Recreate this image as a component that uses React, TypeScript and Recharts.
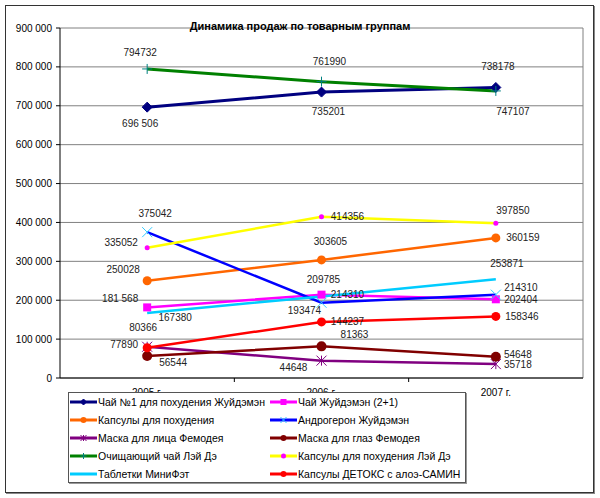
import React from "react";
import { CartesianGrid, LabelList, Legend, Line, LineChart, XAxis, YAxis } from "recharts";

const FONT = "Arial, 'Liberation Sans', sans-serif";

const YEARS = ["2005 г.", "2006 г.", "2007 г."];
const Y_TICKS = [0, 100000, 200000, 300000, 400000, 500000, 600000, 700000, 800000, 900000];

// values per product group, 2005..2007
const chaiN1 = [696506, 735201, 747107];
const chaiZhuy = [181568, 214310, 202404];
const kapsuly = [250028, 303605, 360159];
const androgeron = [375042, 193474, 214310];
const maskaLitso = [80366, 44648, 35718];
const maskaGlaza = [56544, 81363, 54648];
const ochishchChai = [794732, 761990, 738178];
const kapsulyLeyDe = [335052, 414356, 397850];
const miniFet = [167380, 209785, 253871];
const detoks = [77890, 144237, 158346];

// labels that Excel printed with a thousands separator
const SPACED = new Set([696506, 181568]);

type Shape = "diamond" | "square" | "circle" | "x" | "star" | "plus" | "dot" | "none";

const SERIES = [
  { key: "s1", name: "Чай №1 для похудения Жуйдэмэн", values: chaiN1, stroke: "#000080", shape: "diamond" as Shape, mark: "#000080", r: 5, w: 3 },
  { key: "s2", name: "Чай Жуйдэмэн (2+1)", values: chaiZhuy, stroke: "#FF00FF", shape: "square" as Shape, mark: "#FF00FF", r: 4, w: 2.5 },
  { key: "s3", name: "Капсулы для похудения", values: kapsuly, stroke: "#FF6600", shape: "circle" as Shape, mark: "#FF6600", r: 4.5, w: 2.5 },
  { key: "s4", name: "Андрогерон Жуйдэмэн", values: androgeron, stroke: "#0000FF", shape: "x" as Shape, mark: "#33CCFF", r: 5, w: 2.5 },
  { key: "s5", name: "Маска для лица Фемодея", values: maskaLitso, stroke: "#800080", shape: "star" as Shape, mark: "#800080", r: 5, w: 2.5 },
  { key: "s6", name: "Маска для глаз Фемодея", values: maskaGlaza, stroke: "#800000", shape: "circle" as Shape, mark: "#800000", r: 5, w: 2.5 },
  { key: "s7", name: "Очищающий чай Лэй Дэ", values: ochishchChai, stroke: "#008000", shape: "plus" as Shape, mark: "#008080", r: 5, w: 3 },
  { key: "s8", name: "Капсулы для похудения Лэй Дэ", values: kapsulyLeyDe, stroke: "#FFFF00", shape: "dot" as Shape, mark: "#FF00FF", r: 2.5, w: 2.5 },
  { key: "s9", name: "Таблетки МиниФэт", values: miniFet, stroke: "#00CCFF", shape: "none" as Shape, mark: "#00CCFF", r: 0, w: 2.5 },
  { key: "s10", name: "Капсулы ДЕТОКС с алоэ-САМИН", values: detoks, stroke: "#FF0000", shape: "circle" as Shape, mark: "#FF0000", r: 4.5, w: 2.5 },
];

// label centre offsets from each point [dx, dy]
const LABEL_OFFSETS: Record<string, [number, number][]> = {
  s1: [[-7, 16], [7, 19], [17, 24]],
  s2: [[-27, -9], [26, 0], [25, 0]],
  s3: [[-24, -11], [9, -18], [27, 0]],
  s4: [[8, -19], [-17, 8], [25, -7]],
  s5: [[-4, -19], [-28, 7], [22, 0]],
  s6: [[26, 6], [33, -12], [22, -2]],
  s7: [[-7, -16], [8, -20], [2, -24]],
  s8: [[-26, -5], [26, 0], [17, -13]],
  s9: [[28, 5], [2, -17], [11, -16]],
  s10: [[-23, -3], [26, 0], [26, 0]],
};

const rows = YEARS.map((year, i) => {
  const row: Record<string, string | number> = { year };
  SERIES.forEach((s) => (row[s.key] = s.values[i]));
  return row;
});

const spaced = (v: number) => String(v).replace(/\B(?=(\d{3})+(?!\d))/g, " ");

function Marker({ shape, cx, cy, color, r }: { shape: Shape; cx: number; cy: number; color: string; r: number }) {
  switch (shape) {
    case "diamond":
      return <polygon points={`${cx},${cy - r} ${cx + r},${cy} ${cx},${cy + r} ${cx - r},${cy}`} fill={color} stroke={color} />;
    case "square":
      return <rect x={cx - r} y={cy - r} width={2 * r} height={2 * r} fill={color} />;
    case "circle":
    case "dot":
      return <circle cx={cx} cy={cy} r={r} fill={color} />;
    case "x":
      return <path d={`M${cx - r},${cy - r}L${cx + r},${cy + r}M${cx - r},${cy + r}L${cx + r},${cy - r}`} stroke={color} strokeWidth={1} fill="none" />;
    case "star":
      return (
        <path
          d={`M${cx - r},${cy - r}L${cx + r},${cy + r}M${cx - r},${cy + r}L${cx + r},${cy - r}M${cx},${cy - r}L${cx},${cy + r}`}
          stroke={color}
          strokeWidth={1}
          fill="none"
        />
      );
    case "plus":
      return <path d={`M${cx - r},${cy}L${cx + r},${cy}M${cx},${cy - r}L${cx},${cy + r}`} stroke={color} strokeWidth={1} fill="none" />;
    default:
      return null;
  }
}

function XTick(props: any) {
  const { x, y, payload, index, width, visibleTicksCount } = props;
  const n = visibleTicksCount || YEARS.length;
  const half = (width || 523) / n / 2;
  return (
    <g>
      <text x={x} y={y + 18} textAnchor="middle" fontSize={10} fill="#000">
        {payload.value}
      </text>
      {index < n - 1 && <line x1={x + half} x2={x + half} y1={y} y2={y + 4} stroke="#000" />}
    </g>
  );
}

function makeLabel(key: string) {
  return (props: any) => {
    const { index, value } = props;
    const x = props.x ?? props.viewBox?.x;
    const y = props.y ?? props.viewBox?.y;
    const [dx, dy] = LABEL_OFFSETS[key][index];
    return (
      <text x={x + dx} y={y + dy} textAnchor="middle" dominantBaseline="central" fontSize={10} fill="#222">
        {SPACED.has(value) ? spaced(value) : String(value)}
      </text>
    );
  };
}

function LegendBox() {
  return (
    <div
      style={{
        width: "100%",
        height: "100%",
        boxSizing: "border-box",
        border: "1px solid #555",
        boxShadow: "1px 1px 0 #999",
        background: "#fff",
        display: "grid",
        gridTemplateColumns: "200px auto",
        gridAutoRows: "18px",
        fontSize: 10.5,
        fontFamily: FONT,
        color: "#000",
      }}
    >
      {SERIES.map((s) => (
        <div key={s.key} style={{ display: "flex", alignItems: "center", whiteSpace: "nowrap" }}>
          <svg width={29} height={10} style={{ flex: "none" }}>
            <line x1={1} x2={28} y1={5} y2={5} stroke={s.stroke} strokeWidth={3} />
            <Marker shape={s.shape} cx={14.5} cy={5} color={s.mark} r={Math.min(s.r, 3)} />
          </svg>
          <span>{s.name}</span>
        </div>
      ))}
    </div>
  );
}

export default function App() {
  return (
    <div style={{ position: "absolute", left: 0, top: 0, width: 600, height: 498, background: "#fff", fontFamily: FONT }}>
      <LineChart width={600} height={498} data={rows} margin={{ top: 28, right: 17, bottom: 90, left: 0 }} style={{ fontFamily: FONT }}>
        <CartesianGrid
          stroke="#808080"
          verticalCoordinatesGenerator={({ offset }: any) => [offset.left + offset.width]}
        />
        <XAxis
          dataKey="year"
          scale="band"
          axisLine={{ stroke: "#000" }}
          tickLine={false}
          tickSize={0}
          tickMargin={0}
          height={30}
          tick={<XTick />}
          interval={0}
        />
        <YAxis
          domain={[0, 900000]}
          ticks={Y_TICKS}
          width={60}
          tickSize={4}
          tickMargin={4}
          axisLine={{ stroke: "#000" }}
          tickLine={{ stroke: "#000" }}
          tick={{ fontSize: 10, fill: "#000" }}
          tickFormatter={(v: number) => spaced(v)}
          interval={0}
        />
        {SERIES.map((s) => (
          <Line
            key={s.key}
            dataKey={s.key}
            name={s.name}
            stroke={s.stroke}
            strokeWidth={s.w}
            isAnimationActive={false}
            activeDot={false}
            dot={
              s.shape === "none"
                ? false
                : (p: any) => <Marker key={`${s.key}-${p.index}`} shape={s.shape} cx={p.cx} cy={p.cy} color={s.mark} r={s.r} />
            }
          >
            <LabelList dataKey={s.key} content={makeLabel(s.key)} />
          </Line>
        ))}
        <Legend
          layout="vertical"
          align="center"
          verticalAlign="middle"
          content={() => <LegendBox />}
          wrapperStyle={{ left: 68, top: 392, width: 398, height: 91 }}
        />
      </LineChart>
      <div
        style={{
          position: "absolute",
          left: 0,
          top: 19,
          width: 600,
          textAlign: "center",
          fontWeight: "bold",
          fontSize: 11,
          lineHeight: "14px",
          color: "#000",
          pointerEvents: "none",
        }}
      >
        Динамика продаж по товарным группам
      </div>
      <div
        style={{
          position: "absolute",
          left: 5,
          top: 5,
          width: 587,
          height: 486,
          border: "1px solid #333",
          boxShadow: "1px 1px 0 #888",
          pointerEvents: "none",
        }}
      />
    </div>
  );
}
